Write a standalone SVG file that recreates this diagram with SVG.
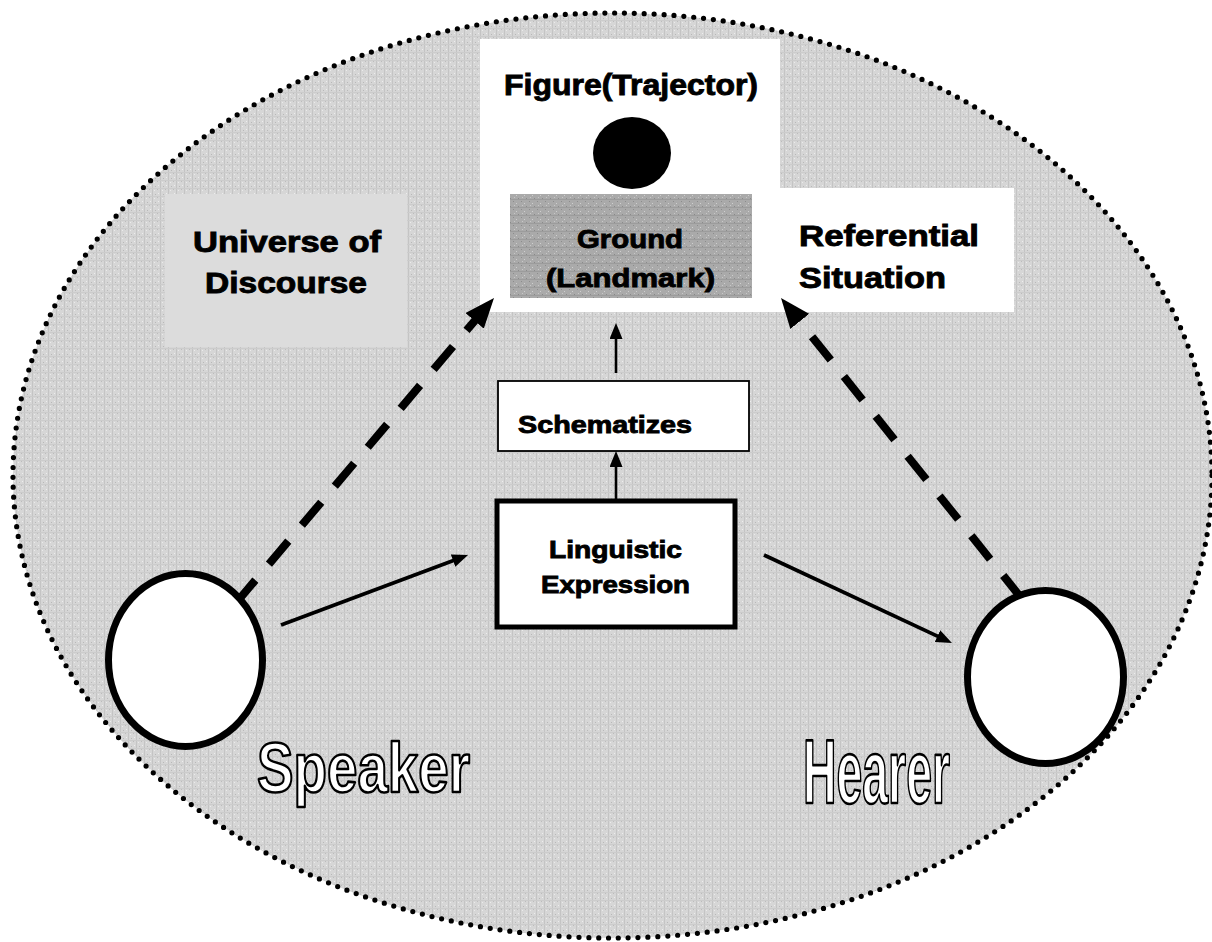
<svg xmlns="http://www.w3.org/2000/svg" width="1212" height="942" viewBox="0 0 1212 942">
<style>
.lbl{font-family:"Liberation Sans",Arial,sans-serif;font-weight:bold;fill:#000;stroke:#000;stroke-width:0.9}
.big{font-family:"Liberation Sans Narrow","Liberation Sans",Arial,sans-serif;font-weight:bold;fill:#fff;stroke:#000;stroke-width:2.6;stroke-linejoin:round}
.thin{stroke:#000;stroke-width:3.8;fill:none}
.vert{stroke:#000;stroke-width:2.6;fill:none}
.dash{stroke:#000;stroke-width:8;fill:none;stroke-dasharray:30 21}
.person{fill:#fff;stroke:#000;stroke-width:7}
</style>
<defs>
<pattern id="tex" width="8" height="8" patternUnits="userSpaceOnUse">
<rect width="8" height="8" fill="#d6d6d6"/>
<rect x="0" y="0" width="1" height="8" fill="#c4c4c4"/>
<rect x="3" y="2" width="1" height="1" fill="#b8b8b8"/>
<rect x="5" y="5" width="1" height="1" fill="#bcbcbc"/>
<rect x="2" y="6" width="1" height="1" fill="#ebebeb"/>
<rect x="6" y="1" width="1" height="1" fill="#ededed"/>
<rect x="0" y="4" width="8" height="1" fill="#cccccc"/>
</pattern>
<pattern id="tex2" width="8" height="8" patternUnits="userSpaceOnUse">
<rect width="8" height="8" fill="#aaaaaa"/>
<rect x="1" y="1" width="1" height="1" fill="#8c8c8c"/>
<rect x="4" y="3" width="1" height="1" fill="#cfcfcf"/>
<rect x="6" y="6" width="1" height="1" fill="#8a8a8a"/>
<rect x="2" y="5" width="1" height="1" fill="#c8c8c8"/>
<rect x="0" y="7" width="8" height="1" fill="#9c9c9c"/>
</pattern>
<marker id="ah" markerUnits="userSpaceOnUse" markerWidth="16" markerHeight="13" refX="4" refY="6.5" orient="auto">
<path d="M0,0 L16,6.5 L0,13 z" fill="#000"/>
</marker>
<marker id="ahBig" markerUnits="userSpaceOnUse" markerWidth="30" markerHeight="24" refX="6" refY="12" orient="auto">
<path d="M0,0 L30,12 L0,24 z" fill="#000"/>
</marker>
</defs>

<g id="universe-ellipse">
<ellipse cx="612.5" cy="475.5" rx="599.5" ry="462.5" fill="url(#tex)"/>
<ellipse cx="612.5" cy="475.5" rx="599.5" ry="462.5" fill="none" stroke="#000" stroke-width="5.2" stroke-linecap="round" stroke-dasharray="0 9.9"/>
</g>

<g id="universe-of-discourse">
<rect x="165" y="194" width="242" height="153" fill="#dcdcdc"/>
<text class="lbl" x="193" y="252" font-size="29" textLength="188" lengthAdjust="spacingAndGlyphs">Universe of</text>
<text class="lbl" x="205" y="293" font-size="29" textLength="162" lengthAdjust="spacingAndGlyphs">Discourse</text>
</g>

<g id="referential-situation">
<path d="M480,39 H780 V188 H1014 V312 H480 Z" fill="#fff"/>
<text class="lbl" x="799" y="246" font-size="29" textLength="180" lengthAdjust="spacingAndGlyphs">Referential</text>
<text class="lbl" x="799" y="288" font-size="29" textLength="147" lengthAdjust="spacingAndGlyphs">Situation</text>
</g>

<g id="figure">
<text class="lbl" x="504" y="95" font-size="29" textLength="254" lengthAdjust="spacingAndGlyphs">Figure(Trajector)</text>
<ellipse cx="632" cy="153" rx="39" ry="36" fill="#000"/>
</g>

<g id="ground">
<rect x="510" y="194" width="242" height="104" fill="url(#tex2)"/>
<text class="lbl" x="577" y="248" font-size="26" textLength="106" lengthAdjust="spacingAndGlyphs">Ground</text>
<text class="lbl" x="546" y="287" font-size="26" textLength="169" lengthAdjust="spacingAndGlyphs">(Landmark)</text>
</g>

<g id="schematizes">
<rect x="498" y="381" width="251" height="70" fill="#fff" stroke="#000" stroke-width="1.8"/>
<text class="lbl" x="518" y="433" font-size="24" textLength="174" lengthAdjust="spacingAndGlyphs">Schematizes</text>
</g>

<g id="linguistic-expression">
<rect x="497" y="501" width="238" height="126" fill="#fff" stroke="#000" stroke-width="5"/>
<text class="lbl" x="549" y="558" font-size="24" textLength="133" lengthAdjust="spacingAndGlyphs">Linguistic</text>
<text class="lbl" x="541" y="593" font-size="24" textLength="149" lengthAdjust="spacingAndGlyphs">Expression</text>
</g>

<g id="connectors">
<line class="dash" x1="236" y1="603" x2="478.5" y2="316.3" marker-end="url(#ahBig)"/>
<line class="dash" x1="1022" y1="599" x2="796" y2="316.7" marker-end="url(#ahBig)"/>
<line class="thin" x1="281" y1="625" x2="456.8" y2="559.2" marker-end="url(#ah)"/>
<line class="thin" x1="764" y1="555" x2="941.1" y2="637.9" marker-end="url(#ah)"/>
<line class="vert" x1="616" y1="501" x2="616" y2="463" marker-end="url(#ah)"/>
<line class="vert" x1="616" y1="373" x2="616" y2="335" marker-end="url(#ah)"/>
</g>

<g id="speaker">
<ellipse class="person" cx="185.5" cy="660" rx="77" ry="86.5"/>
<text class="big" x="257" y="792" font-size="70" textLength="213" lengthAdjust="spacingAndGlyphs">Speaker</text>
</g>

<g id="hearer">
<ellipse class="person" cx="1045.5" cy="677" rx="78" ry="86.5"/>
<text class="big" x="803" y="803" font-size="90" textLength="147" lengthAdjust="spacingAndGlyphs">Hearer</text>
</g>
</svg>
